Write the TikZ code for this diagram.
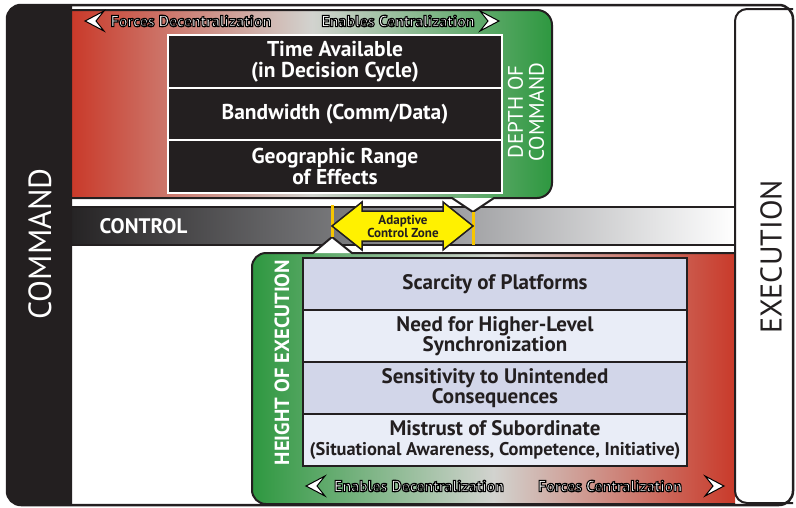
\documentclass[tikz,border=0pt]{standalone}
\usepackage{fontspec}
\setmainfont{PT Sans}
\definecolor{cmdblack}{RGB}{35,31,32}
\definecolor{redA}{RGB}{201,58,42}
\definecolor{midG}{RGB}{210,211,207}
\definecolor{greenA}{RGB}{46,152,64}
\definecolor{barDark}{RGB}{38,36,37}
\definecolor{barMid}{RGB}{140,141,144}
\definecolor{lavA}{RGB}{210,214,233}
\definecolor{lavB}{RGB}{233,237,247}
\definecolor{yelA}{RGB}{255,241,0}
\definecolor{yelLine}{RGB}{247,198,0}
\newcommand{\outtxt}[1]{\special{pdf:literal direct 0 G 2 Tr 1.1 w}#1\special{pdf:literal direct 0 Tr 1 w}}
\tikzset{
  darkbox/.style={draw=white, line width=2pt, fill=cmdblack, text=white,
    font=\fontsize{21.5}{21}\selectfont\bfseries, minimum width=334pt,
    minimum height=52.7pt, align=center, inner sep=0pt},
  lightbox/.style={draw=cmdblack, line width=2pt, text=cmdblack,
    font=\fontsize{21}{20.5}\selectfont\bfseries, minimum width=384pt,
    minimum height=52pt, align=center, inner sep=0pt},
  outlbl/.style={text=white, font=\fontsize{16}{18}\selectfont\bfseries, inner sep=0pt},
  chev/.style={fill=white, draw=black, line width=1pt, line join=miter},
  panelborder/.style={draw=cmdblack, line width=2pt},
}
\begin{document}
\begin{tikzpicture}[x=1pt,y=1pt]
\useasboundingbox (0,0) rectangle (796,-507);
\fill[white] (0,0) rectangle (796,-507);
% control bar
\shade[left color=barDark, right color=white, middle color=barMid] (72,-207) rectangle (735,-245);
\draw[line width=1.5pt, cmdblack] (72,-207) -- (735,-207) (72,-245) -- (735,-245);
% top panel
\shade[left color=redA, right color=greenA, middle color=midG] (72,-10) -- (537,-10)
  arc[start angle=90,end angle=0,radius=15] -- (552,-183)
  arc[start angle=0,end angle=-90,radius=15] -- (72,-198) -- cycle;
\fill[white] (452,-198) -- (473,-212) -- (494,-198) -- cycle;
\draw[panelborder] (72,-10) -- (537,-10) arc[start angle=90,end angle=0,radius=15]
  -- (552,-183) arc[start angle=0,end angle=-90,radius=15]
  -- (494,-198) -- (473,-212) -- (452,-198) -- (72,-198);
% lower panel
\shade[left color=greenA, right color=redA, middle color=midG] (735,-253) -- (266,-253)
  arc[start angle=90,end angle=180,radius=14] -- (252,-490)
  arc[start angle=180,end angle=270,radius=14] -- (735,-504) -- cycle;
\fill[white] (313,-253) -- (332,-237) -- (352,-253) -- cycle;
\draw[panelborder] (735,-253) -- (352,-253) -- (332,-237) -- (313,-253) -- (266,-253)
  arc[start angle=90,end angle=180,radius=14] -- (252,-490)
  arc[start angle=180,end angle=270,radius=14] -- (735,-504);
% execution panel
\draw[line width=2pt, draw=cmdblack, fill=white] (793,-9) -- (747,-9)
  arc[start angle=90,end angle=180,radius=12] -- (735,-491)
  arc[start angle=180,end angle=270,radius=12] -- (793,-503);
% command bar
\fill[cmdblack] (72,-5) -- (21,-5) arc[start angle=90,end angle=180,radius=14]
  -- (7,-491) arc[start angle=180,end angle=270,radius=14] -- (72,-505) -- cycle;
% outer frame
\draw[line width=2.5pt, cmdblack, rounded corners=14pt] (7,-5) rectangle (793,-505);
% yellow markers and adaptive arrow
\draw[yelLine, line width=3pt] (332,-205) -- (332,-237);
\draw[yelLine, line width=3pt] (473,-212) -- (473,-245);
\draw[fill=yelA, draw=cmdblack, line width=1.5pt, line join=miter]
  (332,-226) -- (362,-202) -- (362,-211) -- (443,-211) -- (443,-202) -- (473,-226)
  -- (443,-250) -- (443,-241) -- (362,-241) -- (362,-250) -- cycle;
\node[font=\fontsize{13}{13.5}\selectfont\bfseries, align=center, text=cmdblack, inner sep=0pt]
  (acz) at (403,-226.5) {Adaptive\\Control Zone};
% dark boxes
\node[darkbox] (tb1) at (335,-61.3) {Time Available\\(in Decision Cycle)};
\node[darkbox] (tb2) at (335,-114) {Bandwidth (Comm/Data)};
\node[darkbox] (tb3) at (335,-166.7) {Geographic Range\\of Effects};
% light boxes
\node[lightbox, fill=lavA] (lb1) at (495,-284) {Scarcity of Platforms};
\node[lightbox, fill=lavB] (lb2) at (495,-336) {Need for Higher-Level\\Synchronization};
\node[lightbox, fill=lavA] (lb3) at (495,-388) {Sensitivity to Unintended\\Consequences};
\node[lightbox, fill=lavB] (lb4) at (495,-440) {Mistrust of Subordinate\\{\fontsize{18.4}{20.5}\selectfont(Situational Awareness, Competence, Initiative)}};
% labels
\node[text=white, font=\fontsize{21}{22}\selectfont\bfseries, inner sep=0pt] (ctl) at (143.5,-226) {CONTROL};
\node[rotate=90, text=white, font=\fontsize{32}{36}\selectfont, inner sep=0pt] (cmd) at (40,-244) {COMMAND};
\node[rotate=90, text=cmdblack, font=\fontsize{30}{34}\selectfont, inner sep=0pt] (exe) at (771,-257) {EXECUTION};
\node[rotate=90, text=white, align=center, font=\fontsize{21}{21}\selectfont, inner sep=0pt] (doc) at (526,-112) {DEPTH OF\\COMMAND};
\node[rotate=90, text=white, font=\fontsize{20.5}{22}\selectfont\bfseries, inner sep=0pt] (hoe) at (282,-362.5) {HEIGHT OF EXECUTION};
% outlined labels
\node[outlbl] (fd) at (191,-21) {\outtxt{Forces Decentralization}};
\node[outlbl] (ec) at (398,-21) {\outtxt{Enables Centralization}};
\node[outlbl] (ed) at (419,-486) {\outtxt{Enables Decentralization}};
\node[outlbl] (fc) at (610,-486) {\outtxt{Forces Centralization}};
% chevrons
\draw[chev] (85,-21) -- (104,-11) -- (96,-21) -- (104,-31) -- cycle;
\draw[chev] (499,-21) -- (480,-11) -- (488,-21) -- (480,-31) -- cycle;
\draw[chev] (306,-486) -- (325,-476) -- (317,-486) -- (325,-496) -- cycle;
\draw[chev] (724,-486) -- (705,-476) -- (713,-486) -- (705,-496) -- cycle;
\end{tikzpicture}
\end{document}
